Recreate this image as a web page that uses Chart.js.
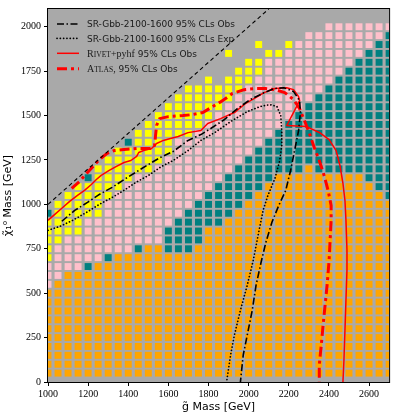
<!DOCTYPE html>
<html>
<head>
<meta charset="utf-8">
<script src="https://cdn.jsdelivr.net/npm/chart.js@4/dist/chart.umd.min.js"></script>
<style>
  html, body { margin: 0; padding: 0; background: #ffffff; }
  canvas { display: block; }
</style>
</head>
<body>
<canvas id="scan" width="394" height="416" style="width:394px;height:416px"></canvas>
<script>
// Scan grid: gluino mass columns and neutralino mass rows (top row first)
const gluinoMass = [1000,1050,1100,1150,1200,1250,1300,1350,1400,1450,1500,1550,1600,1650,1700,1750,1800,1850,1900,1950,2000,2050,2100,2150,2200,2250,2300,2350,2400,2450,2500,2550,2600,2650,2700];
const neutralinoMass = [2000,1950,1900,1850,1800,1750,1700,1650,1600,1550,1500,1450,1400,1350,1300,1250,1200,1150,1100,1050,1000,950,900,850,800,750,700,650,600,550,500,450,400,350,300,250,200,150,100,50];

// Most sensitive region per scan point, run-length coded along each row:
// "." = no point, Y / P / T / O = region class
const cellRuns = [
  "28. 7P",
  "26. 8P 1T",
  "21. 1Y 2. 1Y 8P 2T",
  "18. 1Y 3. 2Y 8P 3T",
  "20. 2Y 9P 4T",
  "19. 3Y 8P 5T",
  "16. 1Y 1. 3Y 8P 6T",
  "14. 6Y 8P 7T",
  "13. 6Y 8P 8T",
  "12. 6Y 8P 9T",
  "11. 6Y 8P 10T",
  "10. 6Y 8P 11T",
  "9. 6Y 8P 12T",
  "8. 1T 4Y 9P 13T",
  "7. 6Y 8P 14T",
  "6. 6Y 8P 15T",
  "5. 6Y 8P 7T 1O 8T",
  "4. 1T 4Y 9P 5T 9O 3T",
  "3. 5Y 9P 5T 11O 2T",
  "2. 5Y 9P 5T 13O 1T",
  "1. 5Y 9P 5T 15O",
  "1T 5Y 8P 5T 16O",
  "4Y 9P 5T 17O",
  "4Y 8P 4T 19O",
  "2Y 10P 4T 19O",
  "1Y 8P 1T 2O 3T 20O",
  "1Y 5P 1T 28O",
  "4P 1T 30O",
  "2P 33O",
  "1P 34O",
  "35O", "35O", "35O", "35O", "35O", "35O", "35O", "35O", "35O", "35O"
];
const cellColours = { Y: '#ffff00', P: '#ffc0cb', T: '#008080', O: '#ffa500' };

// Axis ticks
const xTicks = [1000, 1200, 1400, 1600, 1800, 2000, 2200, 2400, 2600];
const yTicks = [0, 250, 500, 750, 1000, 1250, 1500, 1750, 2000];

// Kinematic limit m(chi) = m(gluino)
const diagX = [1000, 2100];
const diagY = [1000, 2100];

// SR-Gbb-2100-1600 observed contour
const srObsX = [1069,1133,1197,1256,1320,1388,1452,1501,1560,1624,1698,1762,1811,1880,1944,2008,2077,2126,2175,2224,2254,2258,2249,2229,2209,2185,2150,2116,2086,2062,2037,2018,1993,1973,1959];
const srObsY = [905,966,1011,1056,1096,1146,1191,1225,1264,1298,1360,1393,1427,1478,1539,1590,1629,1652,1657,1635,1584,1517,1416,1303,1191,1079,994,899,787,674,545,404,264,152,0];

// SR-Gbb-2100-1600 expected contour
const srExpX = [1000,1059,1123,1192,1256,1320,1379,1438,1501,1565,1624,1698,1762,1831,1910,1993,2057,2106,2141,2160,2165,2165,2155,2131,2096,2072,2052,2023,1993,1959,1929,1910,1890];
const srExpY = [854,876,910,955,1000,1039,1079,1124,1163,1213,1247,1303,1360,1404,1466,1522,1551,1562,1551,1500,1416,1331,1247,1146,1051,966,854,685,545,404,264,152,0];

// Rivet+pyhf observed contour
const rivetX = [1000,1034,1069,1108,1147,1182,1216,1241,1265,1305,1339,1379,1413,1442,1452,1477,1516,1541,1575,1610,1649,1698,1762,1796,1860,1929,1983,2027,2077,2131,2190,2224,2249,2254,2222,2190,2288,2352,2401,2436,2455,2470,2480,2485,2490,2490,2485,2480,2475,2470];
const rivetY = [910,944,978,1017,1051,1079,1112,1140,1163,1191,1213,1236,1247,1270,1292,1303,1315,1343,1360,1371,1382,1404,1416,1455,1483,1517,1567,1595,1629,1652,1657,1646,1607,1584,1514,1444,1438,1405,1365,1303,1219,1118,1022,910,742,629,461,292,124,0];

// ATLAS published observed contour
const atlasX = [1118,1157,1206,1256,1295,1329,1379,1452,1511,1531,1536,1541,1556,1600,1673,1723,1772,1821,1870,1919,1978,2032,2082,2131,2180,2224,2254,2278,2303,2327,2352,2376,2396,2411,2411,2406,2401,2391,2381,2371,2362,2352,2352];
const atlasY = [1090,1129,1191,1253,1287,1303,1309,1315,1315,1331,1388,1444,1483,1494,1500,1506,1517,1551,1584,1624,1646,1652,1652,1646,1629,1590,1539,1472,1399,1320,1247,1163,1079,994,910,798,685,545,433,320,208,96,0];

const pairs = (xs, ys) => xs.map((x, i) => ({ x, y: ys[i] }));

function cellsByClass() {
  const groups = { Y: [], P: [], T: [], O: [] };
  cellRuns.forEach((row, r) => {
    let j = 0;
    row.trim().split(/\s+/).forEach(tok => {
      const m = tok.match(/^(\d+)([.YPTO])$/);
      const n = +m[1], c = m[2];
      for (let i = 0; i < n; i++, j++) {
        if (c !== '.') groups[c].push({ x: gluinoMass[j], y: neutralinoMass[r] });
      }
    });
  });
  return groups;
}

const styles = {
  srObs: { colour: '#000000', width: 1.6, dash: [7, 2.5, 1.5, 2.5], cap: 'butt' },
  srExp: { colour: '#000000', width: 1.7, dash: [0.1, 3.2], cap: 'round' },
  rivet: { colour: '#ff0000', width: 1.5, dash: [], cap: 'butt' },
  atlas: { colour: '#ff0000', width: 3, dash: [10, 4, 3, 4], cap: 'butt' },
  diag:  { colour: '#000000', width: 1.1, dash: [4, 3], cap: 'butt' }
};

function lineSet(label, xs, ys, st) {
  return {
    label, data: pairs(xs, ys), showLine: true, fill: false, tension: 0,
    pointRadius: 0, pointHoverRadius: 0,
    borderColor: st.colour, borderWidth: st.width, borderDash: st.dash,
    borderCapStyle: st.cap, borderJoinStyle: 'round', order: 1
  };
}

const groups = cellsByClass();
const cellSets = ['O', 'T', 'P', 'Y'].map(c => ({
  label: 'cells ' + c, data: groups[c], showLine: false,
  pointStyle: 'rect', pointRadius: 4.9, pointHoverRadius: 4.9,
  backgroundColor: cellColours[c], borderWidth: 0, clip: 0, order: 10
}));

const lineSets = [
  lineSet('diag', diagX, diagY, styles.diag),
  lineSet('SR obs', srObsX, srObsY, styles.srObs),
  lineSet('SR exp', srExpX, srExpY, styles.srExp),
  lineSet('Rivet', rivetX, rivetY, styles.rivet),
  lineSet('ATLAS', atlasX, atlasY, styles.atlas)
];

const sans = '"DejaVu Sans", sans-serif';
const serif = '"Liberation Serif", "DejaVu Serif", serif';

const legendItems = [
  { st: styles.srObs, parts: [{ t: 'SR-Gbb-2100-1600 95% CLs Obs', f: '9px ' + sans }] },
  { st: styles.srExp, parts: [{ t: 'SR-Gbb-2100-1600 95% CLs Exp', f: '9px ' + sans }] },
  { st: styles.rivet, parts: [
      { t: 'R', f: '10px ' + serif }, { t: 'IVET', f: '7.6px ' + serif },
      { t: '+pyhf', f: '10px ' + serif }, { t: ' 95% CLs Obs', f: '9px ' + sans }] },
  { st: styles.atlas, parts: [
      { t: 'A', f: '10px ' + serif }, { t: 'TLAS', f: '7.6px ' + serif },
      { t: ',', f: '10px ' + serif }, { t: ' 95% CLs Obs', f: '9px ' + sans }] }
];

const plotBackground = {
  id: 'plotBackground',
  beforeDatasetsDraw(chart) {
    const { ctx, chartArea: a } = chart;
    ctx.save();
    ctx.fillStyle = '#a9a9a9';
    ctx.fillRect(a.left, a.top, a.right - a.left, a.bottom - a.top);
    ctx.restore();
  }
};

const contourLegend = {
  id: 'contourLegend',
  afterDatasetsDraw(chart) {
    const { ctx, chartArea: a } = chart;
    const x0 = a.left + 9, x1 = a.left + 31, tx = a.left + 39;
    const rowY = [a.top + 15, a.top + 29.3, a.top + 44.3, a.top + 59.8];
    legendItems.forEach((item, i) => {
      const y = rowY[i];
      ctx.save();
      ctx.strokeStyle = item.st.colour;
      ctx.lineWidth = item.st.width;
      ctx.setLineDash(item.st.dash);
      ctx.lineCap = item.st.cap;
      ctx.beginPath(); ctx.moveTo(x0, y); ctx.lineTo(x1, y); ctx.stroke();
      ctx.setLineDash([]);
      ctx.fillStyle = '#1a1a1a';
      ctx.textBaseline = 'alphabetic';
      ctx.textAlign = 'left';
      let x = tx;
      item.parts.forEach(p => {
        ctx.font = p.f;
        ctx.fillText(p.t, x, y + 3.3);
        x += ctx.measureText(p.t).width;
      });
      ctx.restore();
    });
  }
};

const frame = {
  id: 'frame',
  afterDraw(chart) {
    const { ctx, chartArea: a } = chart;
    ctx.save();
    ctx.strokeStyle = '#000000';
    ctx.lineWidth = 1;
    ctx.strokeRect(a.left - 0.5, a.top - 0.5, a.right - a.left + 1, a.bottom - a.top + 1);
    ctx.restore();
  }
};

const tickFont = { family: serif, size: 10 };
const plainNumber = v => String(v);

new Chart(document.getElementById('scan'), {
  type: 'scatter',
  data: { datasets: [...lineSets, ...cellSets] },
  options: {
    responsive: false,
    animation: false,
    devicePixelRatio: 1,
    layout: { padding: { top: 8, right: 1, left: 0, bottom: 0 } },
    plugins: { legend: { display: false }, tooltip: { enabled: false } },
    events: [],
    scales: {
      x: {
        type: 'linear', min: 1000, max: 2700,
        afterBuildTicks: s => { s.ticks = xTicks.map(v => ({ value: v })); },
        afterFit: s => { s.height = 34; },
        ticks: { font: tickFont, color: '#000', maxRotation: 0, autoSkip: false, padding: 2, callback: plainNumber },
        grid: { display: true, drawOnChartArea: false, drawTicks: true, tickLength: 4, color: '#000' },
        border: { display: false },
        title: { display: true, text: 'g\u0303 Mass [GeV]', color: '#000',
                 font: { family: sans, size: 11 }, padding: { top: 0, bottom: 2 } }
      },
      y: {
        type: 'linear', min: 0, max: 2100,
        afterBuildTicks: s => { s.ticks = yTicks.map(v => ({ value: v })); },
        afterFit: s => { s.width = 48; },
        ticks: { font: tickFont, color: '#000', padding: 3, callback: plainNumber },
        grid: { display: true, drawOnChartArea: false, drawTicks: true, tickLength: 4, color: '#000' },
        border: { display: false },
        title: { display: true, text: '\u03c7\u0303\u2081\u2070 Mass [GeV]', color: '#000',
                 font: { family: sans, size: 11 }, padding: { top: 2, bottom: 0 } }
      }
    }
  },
  plugins: [plotBackground, contourLegend, frame]
});
</script>
</body>
</html>
